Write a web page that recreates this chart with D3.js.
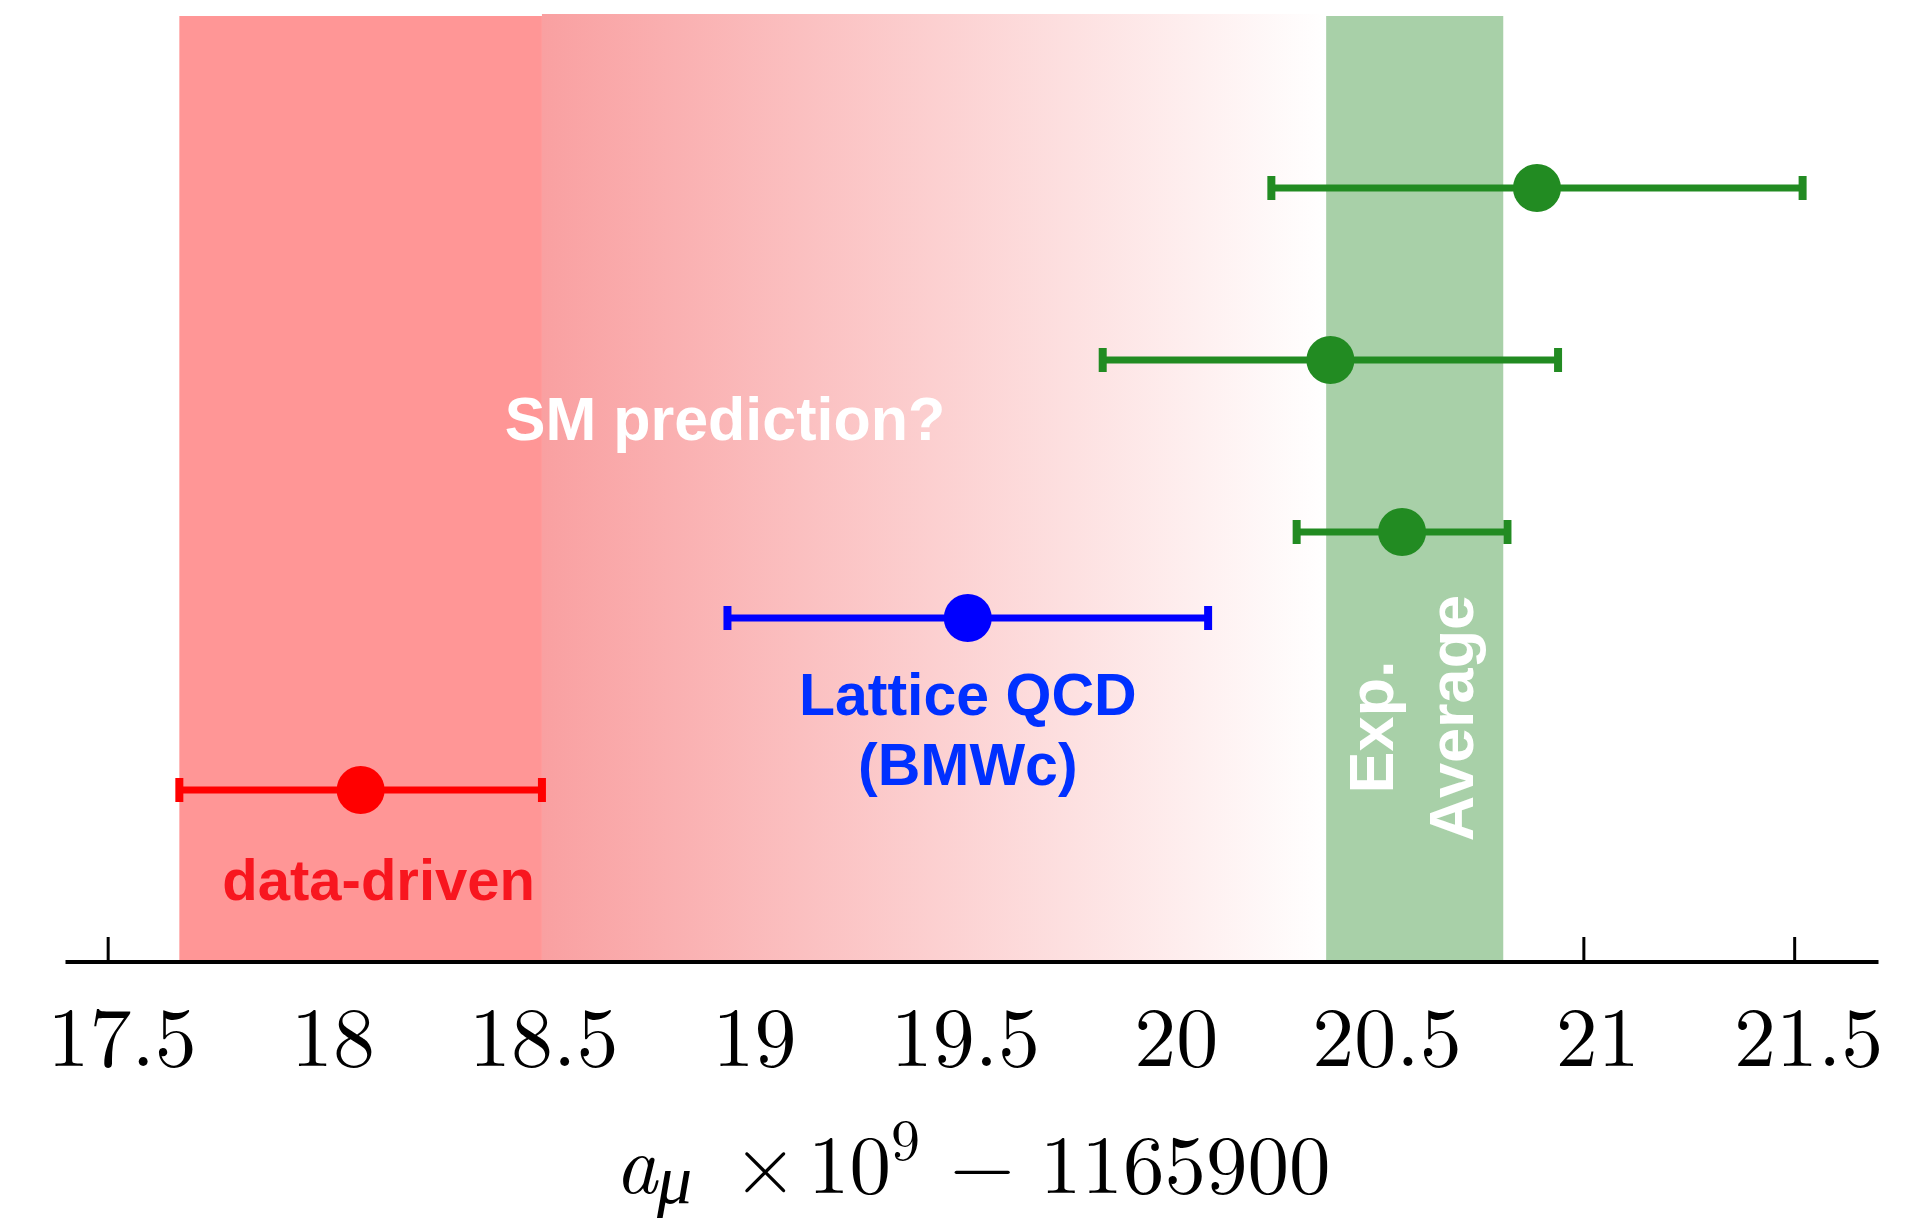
<!DOCTYPE html>
<html>
<head>
<meta charset="utf-8">
<script src="https://cdn.jsdelivr.net/npm/d3@7"></script>
<style>
  body { margin: 0; background: #fff; }
  svg { display: block; }
</style>
</head>
<body>
<svg id="chart" width="1922" height="1218"></svg>
<script>
// rows of the plot, bottom to top
var rowNames = ['data-driven', 'Lattice QCD (BMWc)', 'FNAL 2023', 'FNAL 2021', 'BNL'];
var rowKinds = ['dataDriven', 'lattice', 'experiment', 'experiment', 'experiment'];
var rowLevels = [1, 2, 2.5, 3.5, 4.5];
var centralValues = [18.10, 19.54, 20.57, 20.40, 20.89];
var uncertainties = [0.43, 0.57, 0.25, 0.54, 0.63];

// shaded bands
var expAverage = [20.60, 0.21];
var smFadeEnd = 20.39;

var tickValues = [17.5, 18, 18.5, 19, 19.5, 20, 20.5, 21, 21.5];

var svg = d3.select('#chart');

var x = d3.scaleLinear().domain([17.4, 21.7]).range([65.5, 1878.5]);
var y = d3.scaleLinear().domain([0, 5.5]).range([962, 16]);

var kindColor = {
  dataDriven: '#ff0000',
  lattice: '#0000ff',
  experiment: '#228b22'
};

// gradient for the "SM prediction?" region
var defs = svg.append('defs');
var grad = defs.append('linearGradient')
  .attr('id', 'smFade')
  .attr('x1', '0%').attr('x2', '100%')
  .attr('y1', '0%').attr('y2', '0%');
grad.append('stop').attr('offset', '0%').attr('stop-color', 'rgb(249,160,161)');
grad.append('stop').attr('offset', '100%').attr('stop-color', 'rgb(255,255,255)');

// ticks + labels (under the bands)
var axis = d3.axisBottom(x)
  .tickValues(tickValues)
  .tickFormat(d3.format('~g'))
  .tickSizeInner(-25)
  .tickSizeOuter(0)
  .tickPadding(44);

var gAxis = svg.append('g')
  .attr('transform', 'translate(0,' + y(0) + ')')
  .call(axis);
gAxis.select('.domain').remove();
gAxis.selectAll('.tick line').attr('stroke', '#000').attr('stroke-width', 3);
gAxis.selectAll('.tick text')
  .attr('fill', '#000')
  .attr('dx', 14)
  .style('font-family', '"Latin Modern Roman", "Liberation Serif", "DejaVu Serif", serif')
  .style('font-size', '84px');

// bands
var dd = 0;
svg.append('rect')
  .attr('x', x(centralValues[dd] + uncertainties[dd]))
  .attr('y', y(5.5) - 2)
  .attr('width', x(smFadeEnd) - x(centralValues[dd] + uncertainties[dd]))
  .attr('height', y(0) - y(5.5) + 2)
  .attr('fill', 'url(#smFade)');

svg.append('rect')
  .attr('x', x(centralValues[dd] - uncertainties[dd]))
  .attr('y', y(5.5))
  .attr('width', x(centralValues[dd] + uncertainties[dd]) - x(centralValues[dd] - uncertainties[dd]))
  .attr('height', y(0) - y(5.5))
  .attr('fill', 'rgb(255,150,150)');

svg.append('rect')
  .attr('x', x(expAverage[0] - expAverage[1]))
  .attr('y', y(5.5))
  .attr('width', x(expAverage[0] + expAverage[1]) - x(expAverage[0] - expAverage[1]))
  .attr('height', y(0) - y(5.5))
  .attr('fill', 'rgb(168,208,168)');

// axis line on top
svg.append('line')
  .attr('x1', x.range()[0]).attr('x2', x.range()[1])
  .attr('y1', y(0)).attr('y2', y(0))
  .attr('stroke', '#000').attr('stroke-width', 4);

// text in bands
var sans = '"Liberation Sans", Arial, Helvetica, sans-serif';

svg.append('text')
  .attr('x', 725).attr('y', 440)
  .attr('text-anchor', 'middle')
  .attr('fill', '#fff')
  .style('font-family', sans).style('font-weight', 'bold').style('font-size', '61px')
  .text('SM prediction?');

var expLabel = svg.append('text')
  .attr('transform', 'translate(' + x(expAverage[0]) + ',722) rotate(-90)')
  .attr('text-anchor', 'middle')
  .attr('fill', '#fff')
  .style('font-family', sans).style('font-weight', 'bold').style('font-size', '63px');
expLabel.append('tspan').attr('x', -5).attr('y', -22).text('Exp.');
expLabel.append('tspan').attr('x', 4).attr('y', 58).text('Average');

// error bars
var rows = rowNames.map(function(name, i) {
  return { name: name, kind: rowKinds[i], level: rowLevels[i], value: centralValues[i], err: uncertainties[i] };
});

var bars = svg.append('g').selectAll('g.row')
  .data(rows)
  .enter().append('g')
  .attr('class', 'row')
  .attr('transform', function(d) { return 'translate(0,' + y(d.level) + ')'; });

bars.append('line')
  .attr('x1', function(d) { return x(d.value - d.err); })
  .attr('x2', function(d) { return x(d.value + d.err); })
  .attr('stroke', function(d) { return kindColor[d.kind]; })
  .attr('stroke-width', 7);

[-1, 1].forEach(function(side) {
  bars.append('line')
    .attr('x1', function(d) { return x(d.value + side * d.err); })
    .attr('x2', function(d) { return x(d.value + side * d.err); })
    .attr('y1', -12).attr('y2', 12)
    .attr('stroke', function(d) { return kindColor[d.kind]; })
    .attr('stroke-width', 8);
});

bars.append('circle')
  .attr('cx', function(d) { return x(d.value); })
  .attr('r', 24)
  .attr('fill', function(d) { return kindColor[d.kind]; });

// labels for the theory points
svg.append('text')
  .attr('x', x(centralValues[0]) + 18).attr('y', y(rowLevels[0]) + 110)
  .attr('text-anchor', 'middle')
  .attr('fill', '#f8161f')
  .style('font-family', sans).style('font-weight', 'bold').style('font-size', '58px')
  .text('data-driven');

var latLabel = svg.append('text')
  .attr('text-anchor', 'middle')
  .attr('fill', '#0030ff')
  .style('font-family', sans).style('font-weight', 'bold').style('font-size', '59px');
latLabel.append('tspan').attr('x', x(centralValues[1])).attr('y', y(rowLevels[1]) + 97).text('Lattice QCD');
latLabel.append('tspan').attr('x', x(centralValues[1])).attr('y', y(rowLevels[1]) + 167).text('(BMWc)');

// x axis title: a_mu x 10^9 - 1165900
var serif = '"Latin Modern Roman", "Liberation Serif", "DejaVu Serif", serif';
var title = svg.append('text')
  .attr('y', 1193)
  .attr('fill', '#000')
  .style('font-family', serif).style('font-size', '83px');
title.append('tspan').attr('x', 615).style('font-style', 'italic').text('a');
title.append('tspan').attr('x', 657).attr('dy', 10).style('font-style', 'italic').style('font-size', '70px').text('\u03bc');
title.append('tspan').attr('x', 733).attr('dy', -10).text('\u00d7');
title.append('tspan').attr('x', 808).text('10');
title.append('tspan').attr('x', 891).attr('dy', -33).style('font-size', '58px').text('9');
title.append('tspan').attr('x', 950).attr('dy', 33).text('\u2212');
title.append('tspan').attr('x', 1040).text('1165900');
</script>
</body>
</html>
